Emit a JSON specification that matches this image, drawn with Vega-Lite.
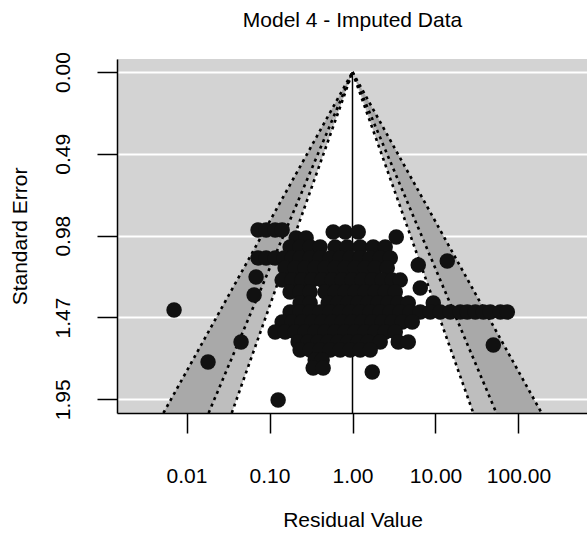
{
  "$schema": "https://vega.github.io/schema/vega-lite/v6.json",
  "width": 471,
  "height": 354,
  "autosize": "none",
  "padding": {"left": 117, "top": 59, "right": 0, "bottom": 122},
  "background": "white",
  "title": {
    "text": "Model 4 - Imputed Data",
    "font": "Liberation Sans",
    "fontSize": 21,
    "fontWeight": "normal",
    "color": "black",
    "anchor": "middle",
    "offset": 21
  },
  "config": {
    "view": {"fill": "#d3d3d3", "stroke": null},
    "font": "Liberation Sans"
  },
  "datasets": {
    "funnel": [
      {"level": 99, "se": 0, "residual": 1, "residual_hi": 1},
      {"level": 99, "se": 2.037, "residual": 0.005264, "residual_hi": 189.97},
      {"level": 95, "se": 0, "residual": 1, "residual_hi": 1},
      {"level": 95, "se": 2.037, "residual": 0.018454, "residual_hi": 54.19},
      {"level": 90, "se": 0, "residual": 1, "residual_hi": 1},
      {"level": 90, "se": 2.037, "residual": 0.03507, "residual_hi": 28.52}
    ],
    "edges": [
      {"edge": "lo99", "se": 0, "residual": 1},
      {"edge": "lo99", "se": 2.037, "residual": 0.005264},
      {"edge": "hi99", "se": 0, "residual": 1},
      {"edge": "hi99", "se": 2.037, "residual": 189.97},
      {"edge": "lo95", "se": 0, "residual": 1},
      {"edge": "lo95", "se": 2.037, "residual": 0.018454},
      {"edge": "hi95", "se": 0, "residual": 1},
      {"edge": "hi95", "se": 2.037, "residual": 54.19},
      {"edge": "lo90", "se": 0, "residual": 1},
      {"edge": "lo90", "se": 2.037, "residual": 0.03507},
      {"edge": "hi90", "se": 0, "residual": 1},
      {"edge": "hi90", "se": 2.037, "residual": 28.52}
    ],
    "centre": [
      {"residual": 1, "se": 0, "se_end": 2.037}
    ],
    "studies": [
      {"residual": 0.00707, "se": 1.422},
      {"residual": 0.01816, "se": 1.732},
      {"residual": 0.0454, "se": 1.613},
      {"residual": 0.0652, "se": 1.332},
      {"residual": 0.0689, "se": 1.225},
      {"residual": 0.127, "se": 1.959},
      {"residual": 1.729, "se": 1.792},
      {"residual": 49.78, "se": 1.631},
      {"residual": 13.87, "se": 1.129},
      {"residual": 6.202, "se": 1.153},
      {"residual": 6.555, "se": 1.29},
      {"residual": 3.367, "se": 0.986},

      {"residual": 0.0728, "se": 0.944},
      {"residual": 0.091, "se": 0.944},
      {"residual": 0.1169, "se": 0.944},
      {"residual": 0.1419, "se": 0.944},
      {"residual": 0.2094, "se": 0.992},
      {"residual": 0.2763, "se": 0.992},
      {"residual": 0.585, "se": 0.956},
      {"residual": 0.8166, "se": 0.956},
      {"residual": 1.172, "se": 0.956},

      {"residual": 0.1771, "se": 1.045},
      {"residual": 0.2339, "se": 1.045},
      {"residual": 0.3088, "se": 1.045},
      {"residual": 0.4077, "se": 1.045},
      {"residual": 0.6184, "se": 1.045},
      {"residual": 0.863, "se": 1.045},
      {"residual": 1.238, "se": 1.045},
      {"residual": 1.777, "se": 1.045},
      {"residual": 2.479, "se": 1.045},

      {"residual": 0.0728, "se": 1.111},
      {"residual": 0.091, "se": 1.111},
      {"residual": 0.1169, "se": 1.111},
      {"residual": 0.15, "se": 1.111},
      {"residual": 0.1873, "se": 1.111},
      {"residual": 0.2339, "se": 1.111},
      {"residual": 0.3088, "se": 1.111},
      {"residual": 0.4077, "se": 1.111},
      {"residual": 0.5383, "se": 1.111},
      {"residual": 0.7106, "se": 1.111},
      {"residual": 0.938, "se": 1.111},
      {"residual": 1.238, "se": 1.111},
      {"residual": 1.635, "se": 1.111},
      {"residual": 2.158, "se": 1.111},
      {"residual": 2.85, "se": 1.111},

      {"residual": 0.1542, "se": 1.171},
      {"residual": 0.2037, "se": 1.171},
      {"residual": 0.2687, "se": 1.171},
      {"residual": 0.3548, "se": 1.171},
      {"residual": 0.4681, "se": 1.171},
      {"residual": 0.6184, "se": 1.171},
      {"residual": 0.8166, "se": 1.171},
      {"residual": 1.078, "se": 1.171},
      {"residual": 1.422, "se": 1.171},
      {"residual": 1.878, "se": 1.171},
      {"residual": 2.622, "se": 1.171},

      {"residual": 0.1419, "se": 1.243},
      {"residual": 0.1873, "se": 1.243},
      {"residual": 0.2473, "se": 1.243},
      {"residual": 0.3265, "se": 1.243},
      {"residual": 0.431, "se": 1.243},
      {"residual": 0.569, "se": 1.243},
      {"residual": 0.7514, "se": 1.243},
      {"residual": 0.9917, "se": 1.243},
      {"residual": 1.309, "se": 1.243},
      {"residual": 1.729, "se": 1.243},
      {"residual": 2.282, "se": 1.243},
      {"residual": 3.012, "se": 1.243},
      {"residual": 3.761, "se": 1.243},

      {"residual": 0.1771, "se": 1.314},
      {"residual": 0.2339, "se": 1.314},
      {"residual": 0.3088, "se": 1.314},
      {"residual": 0.4681, "se": 1.314},
      {"residual": 0.6184, "se": 1.314},
      {"residual": 0.8166, "se": 1.314},
      {"residual": 1.078, "se": 1.314},
      {"residual": 1.422, "se": 1.314},
      {"residual": 1.878, "se": 1.314},
      {"residual": 2.479, "se": 1.314},
      {"residual": 3.274, "se": 1.314},

      {"residual": 0.2339, "se": 1.38},
      {"residual": 0.3088, "se": 1.38},
      {"residual": 0.5091, "se": 1.38},
      {"residual": 0.6722, "se": 1.38},
      {"residual": 0.8872, "se": 1.38},
      {"residual": 1.172, "se": 1.38},
      {"residual": 1.546, "se": 1.38},
      {"residual": 2.042, "se": 1.38},
      {"residual": 2.695, "se": 1.38},
      {"residual": 3.558, "se": 1.38},
      {"residual": 4.698, "se": 1.38},
      {"residual": 9.4, "se": 1.38},

      {"residual": 0.1771, "se": 1.434},
      {"residual": 0.2339, "se": 1.434},
      {"residual": 0.3088, "se": 1.434},
      {"residual": 0.4077, "se": 1.434},
      {"residual": 0.5383, "se": 1.434},
      {"residual": 0.7106, "se": 1.434},
      {"residual": 0.938, "se": 1.434},
      {"residual": 1.238, "se": 1.434},
      {"residual": 1.635, "se": 1.434},
      {"residual": 2.158, "se": 1.434},
      {"residual": 2.85, "se": 1.434},
      {"residual": 3.761, "se": 1.434},
      {"residual": 4.964, "se": 1.434},
      {"residual": 6.555, "se": 1.434},
      {"residual": 8.649, "se": 1.434},
      {"residual": 11.42, "se": 1.434},
      {"residual": 15.08, "se": 1.434},
      {"residual": 19.9, "se": 1.434},
      {"residual": 24.17, "se": 1.434},
      {"residual": 30.19, "se": 1.434},
      {"residual": 37.72, "se": 1.434},
      {"residual": 45.8, "se": 1.434},
      {"residual": 60.5, "se": 1.434},
      {"residual": 73.47, "se": 1.434},

      {"residual": 0.1419, "se": 1.493},
      {"residual": 0.1873, "se": 1.493},
      {"residual": 0.2473, "se": 1.493},
      {"residual": 0.3265, "se": 1.493},
      {"residual": 0.431, "se": 1.493},
      {"residual": 0.569, "se": 1.493},
      {"residual": 0.7514, "se": 1.493},
      {"residual": 0.9917, "se": 1.493},
      {"residual": 1.309, "se": 1.493},
      {"residual": 1.729, "se": 1.493},
      {"residual": 2.282, "se": 1.493},
      {"residual": 3.012, "se": 1.493},
      {"residual": 3.977, "se": 1.493},
      {"residual": 5.25, "se": 1.493},

      {"residual": 0.1169, "se": 1.553},
      {"residual": 0.1542, "se": 1.553},
      {"residual": 0.2037, "se": 1.553},
      {"residual": 0.2687, "se": 1.553},
      {"residual": 0.3548, "se": 1.553},
      {"residual": 0.4681, "se": 1.553},
      {"residual": 0.6184, "se": 1.553},
      {"residual": 0.8166, "se": 1.553},
      {"residual": 1.078, "se": 1.553},
      {"residual": 1.422, "se": 1.553},
      {"residual": 1.878, "se": 1.553},
      {"residual": 2.479, "se": 1.553},
      {"residual": 3.274, "se": 1.553},

      {"residual": 0.2213, "se": 1.613},
      {"residual": 0.2921, "se": 1.613},
      {"residual": 0.3856, "se": 1.613},
      {"residual": 0.5091, "se": 1.613},
      {"residual": 0.6722, "se": 1.613},
      {"residual": 0.8872, "se": 1.613},
      {"residual": 1.172, "se": 1.613},
      {"residual": 1.546, "se": 1.613},
      {"residual": 2.158, "se": 1.613},
      {"residual": 3.558, "se": 1.613},
      {"residual": 4.698, "se": 1.613},

      {"residual": 0.2339, "se": 1.661},
      {"residual": 0.3088, "se": 1.661},
      {"residual": 0.4077, "se": 1.661},
      {"residual": 0.5383, "se": 1.661},
      {"residual": 0.7106, "se": 1.661},
      {"residual": 0.938, "se": 1.661},
      {"residual": 1.238, "se": 1.661},
      {"residual": 1.635, "se": 1.661},

      {"residual": 0.3548, "se": 1.72},
      {"residual": 0.431, "se": 1.72},
      {"residual": 0.3357, "se": 1.768},
      {"residual": 0.4431, "se": 1.768}
    ]
  },
  "encoding": {
    "x": {
      "field": "residual",
      "type": "quantitative",
      "title": "Residual Value",
      "scale": {"type": "log", "domain": [0.001452, 688.7], "nice": false},
      "axis": {
        "values": [0.01, 0.1, 1, 10, 100],
        "format": ".2f",
        "grid": false,
        "zindex": 1,
        "domainColor": "black",
        "domainWidth": 1.5,
        "tickColor": "black",
        "tickWidth": 1.5,
        "tickSize": 20,
        "labelFontSize": 21,
        "labelColor": "black",
        "labelPadding": 32,
        "labelFlush": false,
        "labelOverlap": false,
        "titleFontSize": 21,
        "titleFontWeight": "normal",
        "titleColor": "black",
        "titlePadding": 23
      }
    },
    "y": {
      "field": "se",
      "type": "quantitative",
      "title": "Standard Error",
      "scale": {"domain": [-0.078, 2.037], "reverse": true, "nice": false, "zero": false},
      "axis": {
        "values": [0, 0.48875, 0.9775, 1.46625, 1.9549],
        "format": ".2f",
        "grid": true,
        "gridColor": "white",
        "gridWidth": 2,
        "gridOpacity": 1,
        "zindex": 0,
        "domainColor": "black",
        "domainWidth": 1.5,
        "tickColor": "black",
        "tickWidth": 1.5,
        "tickSize": 20,
        "labelFontSize": 21,
        "labelColor": "black",
        "labelAngle": -90,
        "labelAlign": "center",
        "labelBaseline": "bottom",
        "labelPadding": 24,
        "labelFlush": false,
        "labelOverlap": false,
        "titleFontSize": 21,
        "titleFontWeight": "normal",
        "titleColor": "black",
        "titlePadding": 22
      }
    }
  },
  "layer": [
    {
      "data": {"name": "funnel"},
      "transform": [{"filter": "datum.level == 99"}],
      "mark": {"type": "area", "orient": "horizontal", "color": "#a9a9a9", "opacity": 1},
      "encoding": {"x2": {"field": "residual_hi"}}
    },
    {
      "data": {"name": "funnel"},
      "transform": [{"filter": "datum.level == 95"}],
      "mark": {"type": "area", "orient": "horizontal", "color": "#bebebe", "opacity": 1},
      "encoding": {"x2": {"field": "residual_hi"}}
    },
    {
      "data": {"name": "funnel"},
      "transform": [{"filter": "datum.level == 90"}],
      "mark": {"type": "area", "orient": "horizontal", "color": "#ffffff", "opacity": 1},
      "encoding": {"x2": {"field": "residual_hi"}}
    },
    {
      "data": {"name": "edges"},
      "mark": {"type": "line", "color": "black", "strokeWidth": 2.6, "strokeDash": [3, 4], "strokeCap": "butt"},
      "encoding": {"detail": {"field": "edge"}}
    },
    {
      "data": {"name": "centre"},
      "mark": {"type": "rule", "color": "black", "strokeWidth": 1.5},
      "encoding": {"y2": {"field": "se_end"}}
    },
    {
      "data": {"name": "studies"},
      "mark": {"type": "circle", "size": 240, "color": "#111111", "opacity": 1}
    }
  ]
}
